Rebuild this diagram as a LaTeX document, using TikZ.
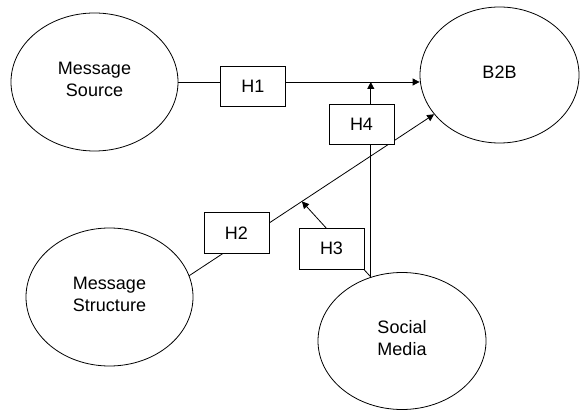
\documentclass[tikz,border=0pt]{standalone}
\usepackage{fontspec}
\setmainfont{Liberation Sans}
\usetikzlibrary{shapes.geometric,arrows.meta}
\begin{document}
\begin{tikzpicture}[x=1pt,y=-1pt,
  construct/.style={draw,ellipse,line width=0.8pt,inner sep=0pt,align=center,
    text depth=6pt,font=\fontsize{18}{22}\selectfont},
  hypbox/.style={draw,fill=white,line width=0.8pt,minimum width=65pt,minimum height=40pt,
    inner sep=0pt,font=\fontsize{18}{21}\selectfont},
  link/.style={line width=0.8pt},
  arrowlink/.style={line width=0.8pt,-{Triangle[length=7pt,width=7pt]}}]
\useasboundingbox (0,0) rectangle (580,411);

% constructs
\node[construct,minimum width=167pt,minimum height=138pt] (ms) at (94.5,82) {Message\\Source};
\node[construct,minimum width=159pt,minimum height=136pt] (b2b) at (499.5,75) {B2B};
\node[construct,minimum width=167pt,minimum height=138pt] (mst) at (109.5,297) {Message\\Structure};
\node[construct,minimum width=168pt,minimum height=137pt] (sm) at (402,341) {Social\\Media};

% direct paths
\draw[arrowlink] (ms.east) -- (b2b.west |- ms.east);
\draw[arrowlink] (mst.15.5) -- (b2b.211.7)
  coordinate[pos=0.46] (h3tip);

% moderating paths of social media
\draw[arrowlink] (sm.116.6) -- (sm.116.6 |- ms.east);
\draw[arrowlink] (sm.116.6) -- (h3tip);

% hypothesis labels
\node[hypbox] (h1) at (253,86) {H1};
\node[hypbox,minimum height=41pt] (h2) at (236.5,233) {H2};
\node[hypbox,minimum height=41pt] (h3) at (331.5,248.5) {H3};
\node[hypbox] (h4) at (361.5,124) {H4};
\end{tikzpicture}
\end{document}
